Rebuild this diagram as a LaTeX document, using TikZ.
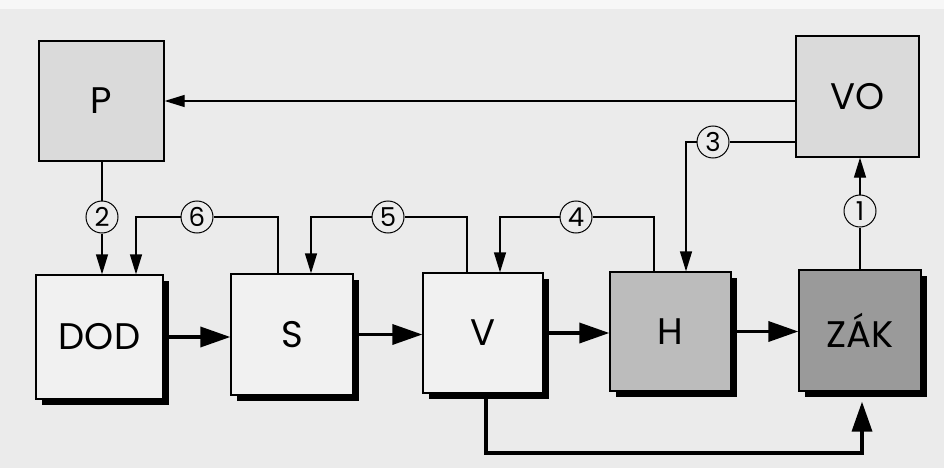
\documentclass[tikz,border=0pt]{standalone}
\usepackage{fontspec}
\setmainfont{Poppins}
\usetikzlibrary{arrows.meta,shadows,calc}
\definecolor{bg}{HTML}{EBEBEB}
\definecolor{topgray}{HTML}{DADADA}
\definecolor{lite}{HTML}{F1F1F1}
\definecolor{hgray}{HTML}{BCBCBC}
\definecolor{zgray}{HTML}{9A9A9A}
\begin{document}
\begin{tikzpicture}[x=1pt,y=-1pt,
  box/.style={draw=black, line width=1.3pt, minimum width=122pt, minimum height=121pt,
    inner sep=0pt, font=\fontsize{37}{40}\selectfont},
  topbox/.style={box, fill=topgray},
  lowbox/.style={box, drop shadow={shadow xshift=6pt, shadow yshift=-6pt, fill=black, opacity=1}},
  num/.style={circle, draw=black, line width=1pt, fill=bg, minimum size=32pt, inner sep=0pt,
    font=\fontsize{26}{28}\selectfont},
  thinarr/.style={draw=black, line width=1.3pt, -{Triangle[length=20pt,width=12pt]}},
  thickarr/.style={draw=black, line width=3.5pt, -{Triangle[length=30pt,width=20pt]}}]
\path[use as bounding box, fill=bg] (0,0) rectangle (944,468);
\fill[white!60!bg] (0,0) rectangle (944,9);
% nodes
\node[topbox, minimum width=125pt, minimum height=120pt] (P) at (101.5,101) {P};
\node[topbox, minimum width=123pt] (VO) at (857.5,96.5) {VO};
\node[lowbox, fill=lite, minimum width=127pt, minimum height=124pt] (DOD) at (99.5,337) {DOD};
\node[lowbox, fill=lite] (S) at (292,334.5) {S};
\node[lowbox, fill=lite, minimum width=120pt, minimum height=120pt] (V) at (483,333) {V};
\node[lowbox, fill=hgray, minimum width=121pt, minimum height=119pt] (H) at (670.5,331.5) {H};
\node[lowbox, fill=zgray] (ZAK) at (860,330.5) {ZÁK};
% numbered circles
\node[num] (c1) at (860,211) {1};
\node[num] (c2) at (102,217) {2};
\node[num] (c3) at (713,142) {3};
\node[num] (c4) at (576,217) {4};
\node[num] (c5) at (388,217) {5};
\node[num] (c6) at (197,217) {6};
% bend points
\coordinate (k3) at (686,142);
\coordinate (k4a) at (654,217);
\coordinate (k4b) at (500,217);
\coordinate (k5a) at (467,217);
\coordinate (k5b) at (311,217);
\coordinate (k6a) at (278,217);
\coordinate (k6b) at (136,217);
\coordinate (kb1) at (486,453);
\coordinate (kb2) at (862,453);
% thin connectors
\draw[thinarr] (VO.west |- P.east) -- (P.east);
\draw[thinarr] (VO.west |- c3) -- (c3) -- (k3) -- (k3 |- H.north);
\draw[thinarr] (ZAK.north -| c1) -- (c1) -- (c1 |- VO.south);
\draw[thinarr] (P.south -| c2) -- (c2) -- (c2 |- DOD.north);
\draw[thinarr] (k6a |- S.north) -- (k6a) -- (c6) -- (k6b) -- (k6b |- DOD.north);
\draw[thinarr] (k5a |- V.north) -- (k5a) -- (c5) -- (k5b) -- (k5b |- S.north);
\draw[thinarr] (k4a |- H.north) -- (k4a) -- (c4) -- (k4b) -- (k4b |- V.north);
% thick connectors
\draw[thickarr] (DOD.east) -- (DOD.east -| S.west);
\draw[thickarr] (S.east) -- (S.east -| V.west);
\draw[thickarr] (V.east) -- (V.east -| H.west);
\draw[thickarr] (H.east) -- (H.east -| ZAK.west);
\draw[thickarr, shorten >=10pt] (kb1 |- V.south) -- (kb1) -- (kb2) -- (kb2 |- ZAK.south);
\end{tikzpicture}
\end{document}
